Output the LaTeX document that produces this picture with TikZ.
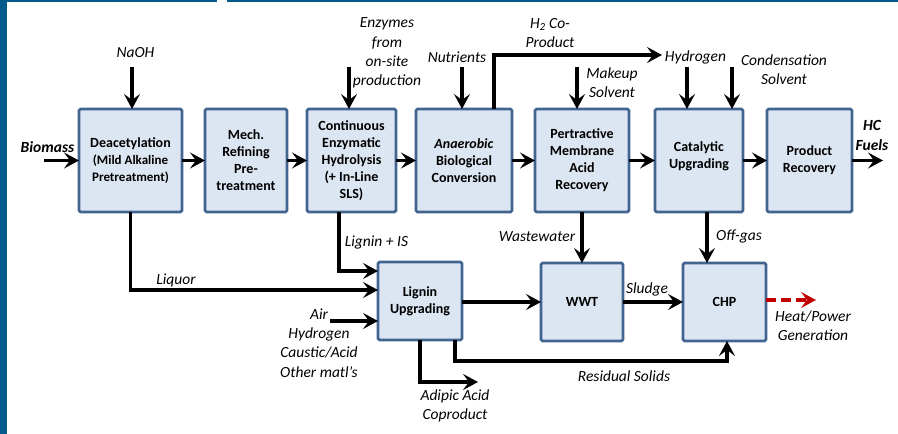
\documentclass[tikz,border=0pt]{standalone}
\usepackage{fontspec}
\setmainfont{Carlito}
\usetikzlibrary{arrows.meta}
\definecolor{frameblue}{RGB}{0,90,140}
\definecolor{boxfill}{RGB}{220,230,242}
\definecolor{boxline}{RGB}{65,100,145}
\definecolor{heatred}{RGB}{192,0,0}
\begin{document}
\begin{tikzpicture}[x=1pt,y=-1pt,
  box/.style={draw=boxline, fill=boxfill, line width=2.6pt, rounded corners=1.5pt,
    inner sep=0pt, outer sep=0pt, align=center,
    font=\fontsize{14}{17}\selectfont\bfseries},
  upbox/.style={box, minimum height=103pt},
  lowbox/.style={box, minimum height=78pt},
  lbl/.style={inner sep=0pt, align=center, font=\fontsize{15.5}{19.3}\selectfont\itshape},
  blbl/.style={lbl, font=\fontsize{15.5}{19.3}\selectfont\bfseries\itshape},
  arr/.style={line width=3.4pt, -{Stealth[length=15pt,width=16pt,inset=6pt]}},
  heat/.style={line width=3.4pt, draw=heatred, dash pattern=on 10pt off 5pt,
    -{Stealth[length=15pt,width=16pt,inset=6pt,fill=heatred]}}
]
\useasboundingbox (0,0) rectangle (898,434);
\fill[frameblue] (0,0) rectangle (7,434);
\fill[frameblue] (0,0) rectangle (217,2);
\fill[frameblue] (227,0) rectangle (898,2);

% boxes
\node[upbox, minimum width=103pt] (deac) at (130.5,160.5)
  {Deacetylation\\{\fontsize{13}{16.5}\selectfont(Mild Alkaline}\\{\fontsize{13}{16.5}\selectfont Pretreatment)}};
\node[upbox, minimum width=82pt] (mech) at (246,160.5) {Mech.\\Refining\\Pre-\\treatment};
\node[upbox, minimum width=89pt] (cont) at (351.5,160.5)
  {Continuous\\Enzymatic\\Hydrolysis\\(+ In-Line\\SLS)};
\node[upbox, minimum width=96pt] (anae) at (464,160.5) {\textit{Anaerobic}\\Biological\\Conversion};
\node[upbox, minimum width=94pt] (pert) at (582,160.5) {Pertractive\\Membrane\\Acid\\Recovery};
\node[upbox, minimum width=88pt] (cat) at (699,160.5) {Catalytic\\Upgrading\\[-6pt]\mbox{}};
\node[upbox, minimum width=85pt] (prod) at (809.5,160.5) {Product\\Recovery};
\node[lowbox, minimum width=84pt] (lig) at (420,301) {Lignin\\Upgrading};
\node[lowbox, minimum width=82pt] (wwt) at (582,302) {WWT};
\node[lowbox, minimum width=83pt] (chp) at (724.5,302) {CHP};

% labels
\node[blbl] (biomass) at (47.5,147) {Biomass};
\node[lbl] (naoh) at (135.5,53) {NaOH};
\node[lbl] (enz) at (387,53) {Enzymes\\from\\on-site\\production};
\node[lbl] (nutr) at (457,57) {Nutrients};
\node[lbl] (h2co) at (550,33) {H\textsubscript{2} Co-\\Product};
\node[lbl] (hyd) at (695.5,57) {Hydrogen};
\node[lbl] (makeup) at (612,82.5) {Makeup\\Solvent};
\node[lbl] (cond) at (784,69.5) {Condensation\\Solvent};
\node[blbl] (hc) at (872,135.5) {HC\\Fuels};
\node[lbl] (ligis) at (376.5,242) {Lignin + IS};
\node[lbl] (liquor) at (176,280) {Liquor};
\node[lbl] (air) at (319,343) {Air\\Hydrogen\\Caustic/Acid\\Other matl’s};
\node[lbl] (ww) at (537,237) {Wastewater};
\node[lbl] (offgas) at (739,236) {Off-gas};
\node[lbl] (sludge) at (647,289) {Sludge};
\node[lbl] (heatlbl) at (813,325.5) {Heat/Power\\Generation};
\node[lbl] (resid) at (624,376) {Residual Solids};
\node[lbl] (adip) at (455,406) {Adipic Acid\\Coproduct};

% free ends
\coordinate (biomassin) at (44,160.5);
\coordinate (naohin) at (132,67);
\coordinate (enzin) at (349,67);
\coordinate (nutrin) at (462,67);
\coordinate (makeupin) at (577,67);
\coordinate (hydin) at (687,67);
\coordinate (condin) at (732,67);
\coordinate (hcout) at (883,160.5);
\coordinate (h2end) at (662,55);
\coordinate (airin) at (330,321);
\coordinate (heatend) at (816,300);
\coordinate (rscorner) at (727,361);
\coordinate (adipend) at (478,382);

% main line
\draw[arr] (biomassin) -- (deac.west);
\draw[arr] (deac.east) -- (mech.west);
\draw[arr] (mech.east) -- (cont.west);
\draw[arr] (cont.east) -- (anae.west);
\draw[arr] (anae.east) -- (pert.west);
\draw[arr] (pert.east) -- (cat.west);
\draw[arr] (cat.east) -- (prod.west);
\draw[arr] (prod.east) -- (hcout);

% top inputs
\draw[arr] (naohin) -- (naohin |- deac.north);
\draw[arr] (enzin) -- (enzin |- cont.north);
\draw[arr] (nutrin) -- (nutrin |- anae.north);
\draw[arr] (makeupin) -- (makeupin |- pert.north);
\draw[arr] (hydin) -- (hydin |- cat.north);
\draw[arr] (condin) -- (condin |- cat.north);
\draw[arr] ([xshift=30pt]anae.north) |- (h2end);

% lower section
\draw[arr] (deac.south) |- ([yshift=11pt]lig.west);
\draw[arr] ([xshift=-12.5pt]cont.south) |- ([yshift=30pt]lig.west);
\draw[arr] (airin) -- (airin -| lig.west);
\draw[arr] (wwt.west -| lig.east) -- (wwt.west);
\draw[arr] (pert.south) -- (wwt.north);
\draw[arr] ([xshift=8pt]cat.south) -- ([xshift=8pt]cat.south |- chp.north);
\draw[arr] (wwt.east) -- (chp.west);
\draw[heat] ([yshift=2pt]chp.east) -- (heatend);
\draw[arr] ([xshift=35pt]lig.south) |- (rscorner) -- (rscorner |- chp.south);
\draw[arr] (lig.south) |- (adipend);
\end{tikzpicture}
\end{document}
